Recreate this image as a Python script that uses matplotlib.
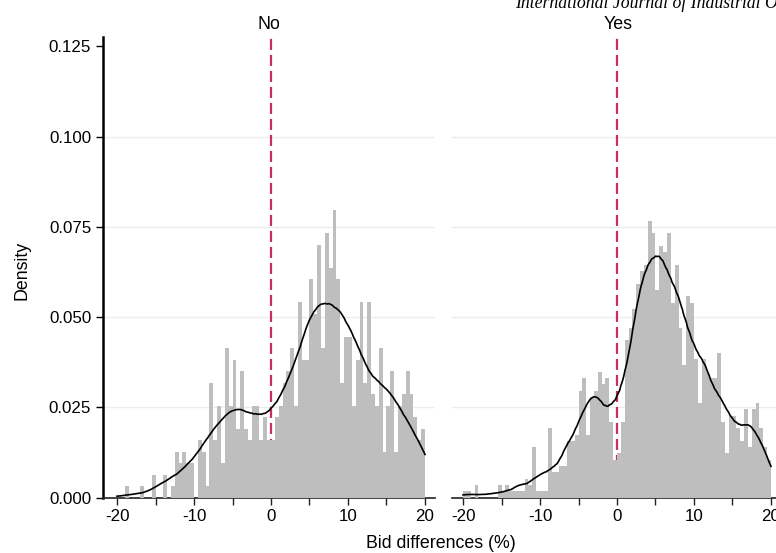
import numpy as np
import matplotlib
matplotlib.use("Agg")
import matplotlib.pyplot as plt

plt.rcParams['font.family'] = ['Liberation Sans', 'DejaVu Sans']
plt.rcParams['axes.unicode_minus'] = False

# Histogram bins: 80 bins of 0.5 between -20 and 20
bin_edges = np.linspace(-20, 20, 81)
bin_centers = (bin_edges[:-1] + bin_edges[1:]) / 2

# Observation counts per bin, panel "No"
counts_no = [0, 0, 1, 0, 0, 0, 1, 0, 0, 2,
             0, 0, 2, 0, 1, 4, 3, 4, 3, 3,
             0, 5, 4, 1, 10, 5, 8, 3, 13, 8,
             12, 6, 11, 6, 5, 8, 8, 5, 7, 5,
             5, 7, 8, 10, 11, 13, 8, 17, 12, 12,
             19, 16, 22, 13, 23, 20, 25, 19, 10, 14,
             14, 8, 12, 17, 10, 17, 9, 8, 13, 4,
             8, 11, 4, 8, 9, 11, 9, 7, 5, 6]

# Observation counts per bin, panel "Yes"
counts_yes = [1, 1, 0, 2, 0, 0, 0, 0, 0, 2,
              1, 2, 1, 1, 1, 1, 3, 2, 8, 1,
              1, 1, 11, 4, 4, 5, 5, 9, 9, 10,
              17, 19, 10, 16, 17, 20, 18, 19, 12, 6,
              7, 12, 25, 27, 30, 34, 36, 37, 44, 42,
              33, 40, 39, 42, 31, 37, 27, 21, 32, 31,
              22, 15, 22, 20, 19, 19, 23, 12, 7, 13,
              13, 11, 9, 14, 8, 14, 15, 11, 8, 6]

panel_titles = ['No', 'Yes']
y_ticks = [0.0, 0.025, 0.05, 0.075, 0.1, 0.125]
x_ticks = [-20, -10, 0, 10, 20]


def kdensity(values, grid):
    # Epanechnikov kernel with the usual rule-of-thumb bandwidth
    n = len(values)
    sd = values.std(ddof=1)
    q75, q25 = np.percentile(values, [75, 25])
    h = 0.9 * min(sd, (q75 - q25) / 1.349) * n ** -0.2
    z = (grid[:, None] - values[None, :]) / h
    k = np.where(np.abs(z) < np.sqrt(5), 0.75 * (1 - z ** 2 / 5) / np.sqrt(5), 0.0)
    return k.sum(axis=1) / (n * h)


fig = plt.figure(figsize=(7.76, 5.53), dpi=100)
ax_no = fig.add_axes([103 / 776, 1 - 497.5 / 553, 332 / 776, 460.5 / 553])
ax_yes = fig.add_axes([452 / 776, 1 - 497.5 / 553, 332 / 776, 460.5 / 553])

limits = [(-21.82, 21.30), (-21.43, 21.69)]
bar_color = '#bebebe'
line_color = '#cc2e5d'

for ax, counts, title, xlim in zip([ax_no, ax_yes], [counts_no, counts_yes],
                                   panel_titles, limits):
    counts = np.array(counts)
    ax.hist(bin_centers, bins=bin_edges, weights=counts, density=True,
            color=bar_color, edgecolor='none', zorder=3)

    # kernel density over the (binned) observations, drawn across the bin range
    values = np.repeat(bin_centers, counts)
    grid = np.linspace(bin_edges[0], bin_edges[-1], 300)
    ax.plot(grid, kdensity(values, grid), color='black', lw=1.2, zorder=4)

    ax.axvline(0, color=line_color, lw=1.6, ls=(0, (5, 2.2)), zorder=2)

    ax.set_xlim(*xlim)
    ax.set_ylim(0, 0.1276)
    ax.set_yticks(y_ticks)
    ax.set_xticks(x_ticks)
    ax.set_xticks([-15, -5, 5, 15], minor=True)
    for y in y_ticks[1:-1]:
        ax.axhline(y, color='#ececec', lw=1.0, zorder=1)

    ax.set_title(title, fontsize=12.8, pad=6)
    ax.spines['top'].set_visible(False)
    ax.spines['right'].set_visible(False)
    ax.spines['bottom'].set_linewidth(1.2)
    ax.spines['bottom'].set_color('#222222')
    ax.tick_params(axis='x', which='both', direction='out', length=5,
                   width=1, labelsize=12.2, color='#222222')
    ax.tick_params(axis='x', which='minor', labelbottom=False)

# y axis only on the left panel
ax_no.spines['left'].set_linewidth(1.8)
ax_no.tick_params(axis='y', direction='out', length=5, width=1, labelsize=12.2)
ax_no.set_yticklabels([f'{y:.3f}' for y in y_ticks])
ax_yes.spines['left'].set_visible(False)
ax_yes.tick_params(axis='y', left=False, labelleft=False)

fig.text(22 / 776, 1 - 270 / 553, 'Density', rotation=90, fontsize=12.8,
         ha='center', va='center')
fig.text(441 / 776, 1 - 543 / 553, 'Bid differences (%)', fontsize=12.8,
         ha='center', va='center')
fig.text(515 / 776, 1 - 8 / 553, 'International Journal of Industrial Organization',
         family='Liberation Serif', style='italic', fontsize=12.8, ha='left',
         va='baseline')

plt.savefig('out.png', dpi=100)
